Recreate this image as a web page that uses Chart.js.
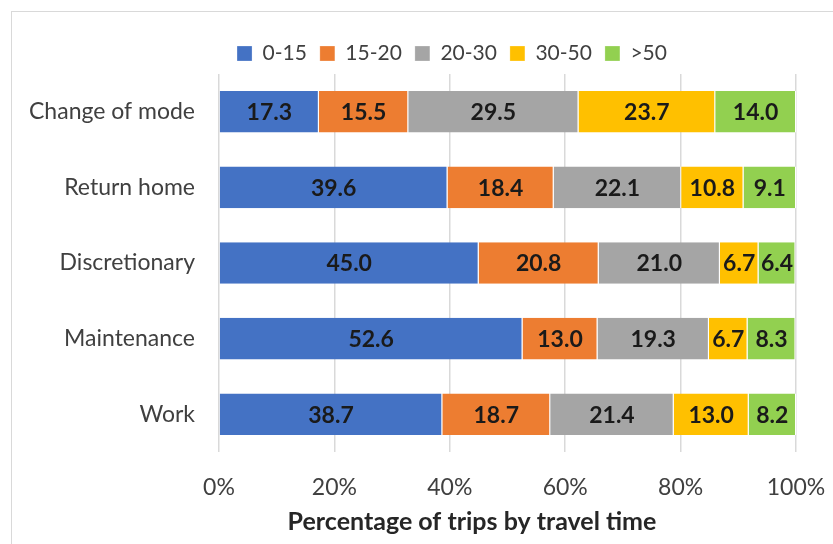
<!DOCTYPE html>
<html>
<head>
<meta charset="utf-8">
<script src="https://cdn.jsdelivr.net/npm/chart.js@4"></script>
<style>
  html, body { margin: 0; padding: 0; background: #fff; }
  #wrap { position: relative; width: 833px; height: 544px; overflow: hidden; }
  #frame { position: absolute; left: 11px; top: 11px; width: 900px; height: 600px; border: 1px solid #d9d9d9; }
  canvas { position: absolute; left: 0; top: 0; }
</style>
</head>
<body>
<div id="wrap">
  <div id="frame"></div>
  <canvas id="chart" width="833" height="544"></canvas>
</div>
<script>
'use strict';

let categories = ['Change of mode', 'Return home', 'Discretionary', 'Maintenance', 'Work'];
let seriesNames = ['0-15', '15-20', '20-30', '30-50', '>50'];
let colors = ['#4472C4', '#ED7D31', '#A5A5A5', '#FFC000', '#92D050'];

let v0to15 = [17.3, 39.6, 45.0, 52.6, 38.7];
let v15to20 = [15.5, 18.4, 20.8, 13.0, 18.7];
let v20to30 = [29.5, 22.1, 21.0, 19.3, 21.4];
let v30to50 = [23.7, 10.8, 6.7, 6.7, 13.0];
let vOver50 = [14.0, 9.1, 6.4, 8.3, 8.2];

let xTicks = [0, 20, 40, 60, 80, 100];
let xTitle = 'Percentage of trips by travel time';

let allValues = [v0to15, v15to20, v20to30, v30to50, vOver50];
let fontFamily = 'Lato, "Open Sans", sans-serif';

// draws the value in the middle of each bar piece
const barLabels = {
  id: 'barLabels',
  afterDatasetsDraw(chart) {
    let ctx = chart.ctx;
    ctx.save();
    ctx.font = 'bold 23px ' + fontFamily;
    ctx.fillStyle = '#1a1a1a';
    ctx.textAlign = 'center';
    ctx.textBaseline = 'middle';
    chart.data.datasets.forEach(function (ds, i) {
      let meta = chart.getDatasetMeta(i);
      meta.data.forEach(function (bar, j) {
        let cx = (bar.x + bar.base) / 2;
        ctx.fillText(ds.data[j].toFixed(1), cx, bar.y + 1);
      });
    });
    ctx.restore();
  }
};

// the original chart was wider than the crop, so legend and title sit off-centre
function moveCenter(box, cx) {
  if (!box) return;
  let d = cx - (box.left + box.right) / 2;
  box.left += d;
  box.right += d;
}
const shiftBoxes = {
  id: 'shiftBoxes',
  afterLayout(chart) {
    moveCenter(chart.legend, 452);
    moveCenter(chart.titleBlock, 472);
  }
};

let datasets = [];
for (let i = 0; i < seriesNames.length; i++) {
  datasets.push({
    label: seriesNames[i],
    data: allValues[i],
    backgroundColor: colors[i],
    borderColor: '#ffffff',
    borderWidth: { left: 0, right: 1, top: 0, bottom: 0 },
    borderSkipped: false,
    barPercentage: 0.55,
    categoryPercentage: 1.0
  });
}

new Chart(document.getElementById('chart'), {
  type: 'bar',
  data: { labels: categories, datasets: datasets },
  plugins: [barLabels, shiftBoxes],
  options: {
    responsive: false,
    animation: false,
    indexAxis: 'y',
    layout: { padding: { left: 0, right: 0, top: 30, bottom: 0 } },
    plugins: {
      legend: {
        position: 'top',
        labels: {
          boxWidth: 15,
          boxHeight: 15,
          padding: 13,
          color: '#404040',
          font: { family: fontFamily, size: 21 }
        }
      },
      title: {
        display: true,
        position: 'bottom',
        text: xTitle,
        color: '#262626',
        font: { family: fontFamily, size: 25, weight: 'bold' },
        padding: { top: 0, bottom: 7 }
      },
      tooltip: { enabled: false }
    },
    scales: {
      x: {
        stacked: true,
        min: 0,
        max: 100,
        afterBuildTicks: function (axis) {
          axis.ticks = xTicks.map(function (v) { return { value: v }; });
        },
        afterFit: function (axis) {
          axis.height = 55;
          axis.paddingRight = 37;
        },
        grid: { color: '#d9d9d9', lineWidth: 1.5, drawTicks: false },
        border: { display: false },
        ticks: {
          padding: 22,
          color: '#404040',
          font: { family: fontFamily, size: 23 },
          callback: function (v) { return v + '%'; }
        }
      },
      y: {
        stacked: true,
        grid: { display: false, drawTicks: false },
        border: { display: false },
        afterFit: function (axis) { axis.width = 219; },
        ticks: {
          padding: 24,
          color: '#404040',
          font: { family: fontFamily, size: 23 }
        }
      }
    }
  }
});
</script>
</body>
</html>
